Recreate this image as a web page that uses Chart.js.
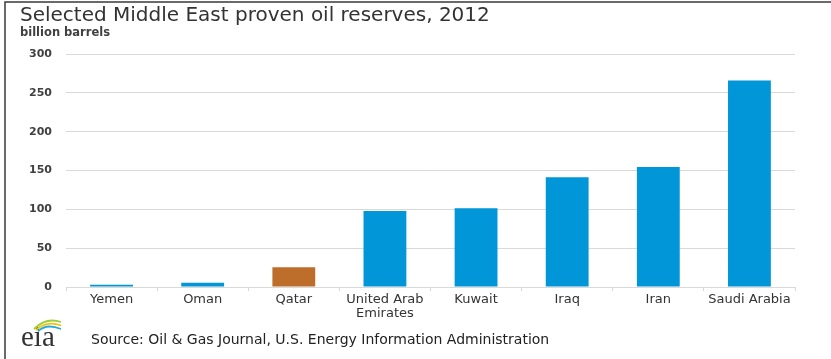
<!DOCTYPE html>
<html>
<head>
<meta charset="utf-8">
<script src="https://cdn.jsdelivr.net/npm/chart.js@4.4.0/dist/chart.umd.min.js"></script>
<style>
  html, body { margin: 0; padding: 0; background: #fff; }
  #wrap { width: 831px; height: 359px; position: relative; }
</style>
</head>
<body>
<div id="wrap"><canvas id="myChart" width="831" height="359"></canvas></div>
<script>
// data (billion barrels)
const countries = ['Yemen', 'Oman', 'Qatar', ['United Arab', 'Emirates'], 'Kuwait', 'Iraq', 'Iran', 'Saudi Arabia'];
const reserves = [3.0, 5.5, 25.4, 97.8, 101.5, 141.4, 154.6, 265.9];
const barColors = ['#0096d7', '#0096d7', '#bd6e2b', '#0096d7', '#0096d7', '#0096d7', '#0096d7', '#0096d7'];
const yTicks = [0, 50, 100, 150, 200, 250, 300];

const titleText = 'Selected Middle East proven oil reserves, 2012';
const unitText = 'billion barrels';
const sourceText = 'Source: Oil & Gas Journal, U.S. Energy Information Administration';

const FONT = '"DejaVu Sans", Arial, sans-serif';

// frame, title, unit label, logo and source line
const decor = {
  id: 'decor',
  beforeDraw(chart) {
    const c = chart.ctx;
    c.save();
    c.fillStyle = '#fff';
    c.fillRect(0, 0, chart.width, chart.height);
    c.strokeStyle = '#3a3a3a';
    c.lineWidth = 1.5;
    c.beginPath();
    c.moveTo(5, 359);
    c.lineTo(5, 2);
    c.lineTo(831, 2);
    c.stroke();
    c.restore();
  },
  afterDraw(chart) {
    const c = chart.ctx;
    c.save();
    c.textBaseline = 'middle';
    c.fillStyle = '#333';
    c.font = '20px ' + FONT;
    c.fillText(titleText, 20, 16);
    c.font = 'bold 11.5px ' + FONT;
    c.fillStyle = '#404040';
    c.fillText(unitText, 20, 33);
    c.font = '14px ' + FONT;
    c.fillStyle = '#222';
    c.fillText(sourceText, 91, 340);

    // eia logo: lettering + swoosh above "ia"
    c.fillStyle = '#333';
    c.textBaseline = 'alphabetic';
    c.font = '29px "Liberation Serif", "Times New Roman", serif';
    c.fillText('eia', 21, 346);
    const arcs = ['#9ccb3b', '#f5c400', '#2aa8dc'];
    c.lineWidth = 1.8;
    arcs.forEach((col, i) => {
      c.strokeStyle = col;
      c.beginPath();
      c.moveTo(34 + i * 2, 329 + i * 1.2);
      c.quadraticCurveTo(46, 317 + i * 3, 61, 322 + i * 3.5);
      c.stroke();
    });
    c.restore();
  }
};

const ctx = document.getElementById('myChart').getContext('2d');
const chart = new Chart(ctx, {
  type: 'bar',
  data: {
    labels: countries,
    datasets: [{
      data: reserves,
      backgroundColor: barColors,
      borderWidth: 0,
      barPercentage: 0.47,
      categoryPercentage: 1.0
    }]
  },
  options: {
    responsive: false,
    animation: false,
    layout: { padding: { left: 0, top: 54, right: 36, bottom: 36 } },
    plugins: {
      legend: { display: false },
      tooltip: { enabled: false }
    },
    scales: {
      y: {
        min: 0,
        max: 300,
        afterFit(scale) { scale.width = 66; },
        afterBuildTicks(scale) { scale.ticks = yTicks.map(v => ({ value: v })); },
        border: { display: false },
        grid: { color: '#d9d9d9', drawTicks: false, lineWidth: 1 },
        ticks: {
          padding: 14,
          color: '#404040',
          font: { family: FONT, size: 11, weight: 'bold' }
        }
      },
      x: {
        afterFit(scale) { scale.height = 36; },
        border: { display: true, color: '#d9d9d9' },
        grid: { drawOnChartArea: false, color: '#d9d9d9', tickLength: 4, offset: true },
        ticks: {
          padding: 2,
          maxRotation: 0,
          autoSkip: false,
          color: '#333',
          font: { family: FONT, size: 13, lineHeight: 1.05 }
        }
      }
    }
  },
  plugins: [decor]
});
</script>
</body>
</html>
